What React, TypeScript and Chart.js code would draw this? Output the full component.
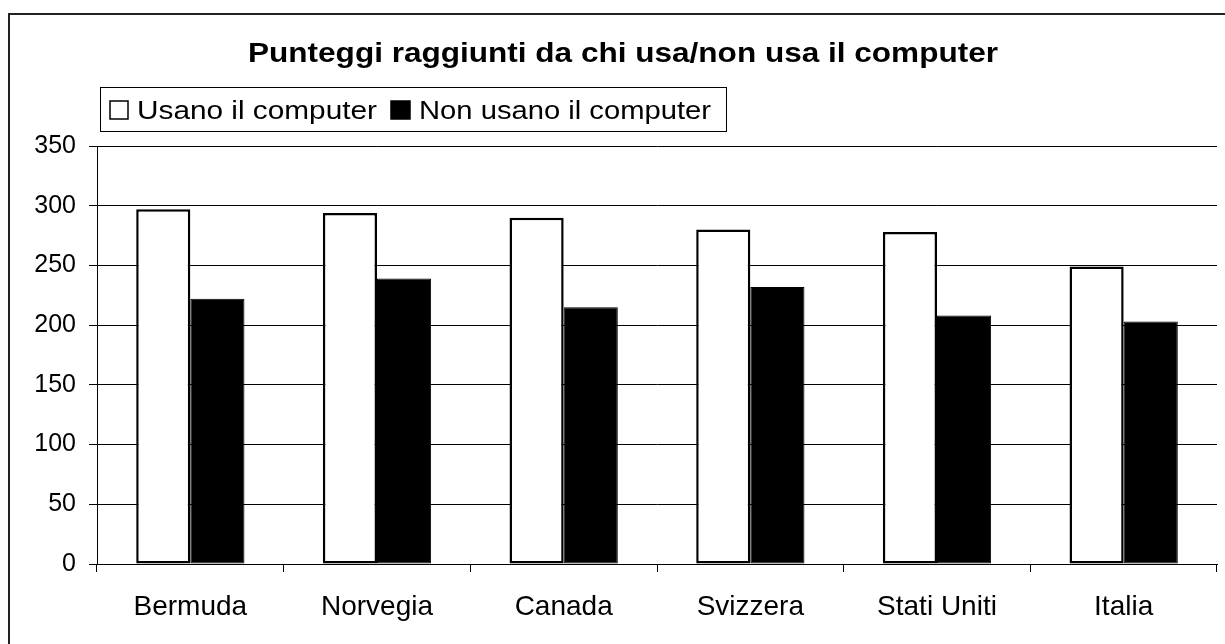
import React, { useEffect, useRef } from "react";
import { Chart, registerables } from "chart.js";

Chart.register(...registerables);

const categories = ["Bermuda", "Norvegia", "Canada", "Svizzera", "Stati Uniti", "Italia"];
const usanoValues = [297, 294, 290, 280, 278, 249];
const nonUsanoValues = [222, 239, 215, 232, 208, 203];
const seriesNames = ["Usano il computer", "Non usano il computer"];
const titleText = "Punteggi raggiunti da chi usa/non usa il computer";
const yTicks = [0, 50, 100, 150, 200, 250, 300, 350];

const FONT = "'Liberation Sans', Arial, sans-serif";

function stretchedText(ctx: any, text: string, x: number, y: number, width: number, align: "left" | "center") {
  const w = ctx.measureText(text).width;
  const s = width / w;
  ctx.save();
  ctx.translate(x, y);
  ctx.scale(s, 1);
  ctx.textAlign = align;
  ctx.fillText(text, 0, 0);
  ctx.restore();
}

const decorPlugin = {
  id: "decor",
  beforeDraw(chart: any) {
    const ctx = chart.ctx;
    ctx.save();
    ctx.fillStyle = "#fff";
    ctx.fillRect(0, 0, chart.width, chart.height);
    ctx.strokeStyle = "#222";
    ctx.lineWidth = 2;
    ctx.strokeRect(9, 14, chart.width + 20, chart.height + 20);
    ctx.restore();
  },
  afterDraw(chart: any) {
    const ctx = chart.ctx;
    ctx.save();
    ctx.fillStyle = "#000";
    ctx.textBaseline = "alphabetic";
    // title
    ctx.font = `bold 27px ${FONT}`;
    stretchedText(ctx, titleText, 623, 62, 750, "center");
    // legend box
    ctx.strokeStyle = "#000";
    ctx.lineWidth = 1;
    ctx.strokeRect(100.5, 87.5, 626, 44);
    // legend items
    ctx.font = `26px ${FONT}`;
    ctx.lineWidth = 1.5;
    ctx.fillStyle = "#fff";
    ctx.fillRect(110, 101, 18, 18);
    ctx.strokeRect(110, 101, 18, 18);
    ctx.fillStyle = "#000";
    ctx.fillRect(391, 101, 19, 18);
    ctx.strokeRect(391, 101, 19, 18);
    stretchedText(ctx, seriesNames[0], 137, 119, 240, "left");
    stretchedText(ctx, seriesNames[1], 419, 119, 292, "left");
    ctx.restore();
  },
};

export default function App() {
  const ref = useRef<HTMLCanvasElement | null>(null);
  useEffect(() => {
    if (!ref.current) return;
    const chart = new Chart(ref.current, {
      type: "bar",
      data: {
        labels: categories,
        datasets: [
          {
            label: seriesNames[0],
            data: usanoValues,
            backgroundColor: "#fff",
            borderColor: "#000",
            borderWidth: 2.5,
            borderSkipped: false,
          },
          {
            label: seriesNames[1],
            data: nonUsanoValues,
            backgroundColor: "#000",
            borderColor: "#000",
            borderWidth: 1,
            borderSkipped: false,
          },
        ],
      },
      options: {
        animation: false,
        responsive: false,
        maintainAspectRatio: false,
        layout: { padding: { left: 0, top: 146, right: 8, bottom: 0 } },
        plugins: {
          legend: { display: false },
          title: { display: false },
          tooltip: { enabled: false },
        },
        datasets: { bar: { barPercentage: 1, categoryPercentage: 0.58 } },
        scales: {
          x: {
            offset: true,
            grid: {
              offset: true,
              drawOnChartArea: false,
              drawTicks: true,
              tickLength: 8,
              color: "#000",
            },
            border: { display: true, color: "#000", width: 1 },
            ticks: {
              color: "#000",
              font: { family: FONT, size: 28 },
              padding: 18,
              maxRotation: 0,
            },
            afterFit(scale: any) {
              scale.height = 80;
            },
          },
          y: {
            min: 0,
            max: 350,
            afterBuildTicks(scale: any) {
              scale.ticks = yTicks.map((v) => ({ value: v }));
            },
            grid: {
              color: "#000",
              lineWidth: 1,
              drawTicks: true,
              tickLength: 8,
            },
            border: { display: true, color: "#000", width: 1 },
            ticks: {
              color: "#000",
              font: { family: FONT, size: 25 },
              padding: 13,
            },
            afterFit(scale: any) {
              scale.width = 97;
            },
          },
        },
      },
      plugins: [decorPlugin],
    });
    return () => chart.destroy();
  }, []);
  return (
    <div style={{ position: "absolute", left: 0, top: 0, width: 1225, height: 644 }}>
      <canvas ref={ref} width={1225} height={644} style={{ display: "block" }} />
    </div>
  );
}
